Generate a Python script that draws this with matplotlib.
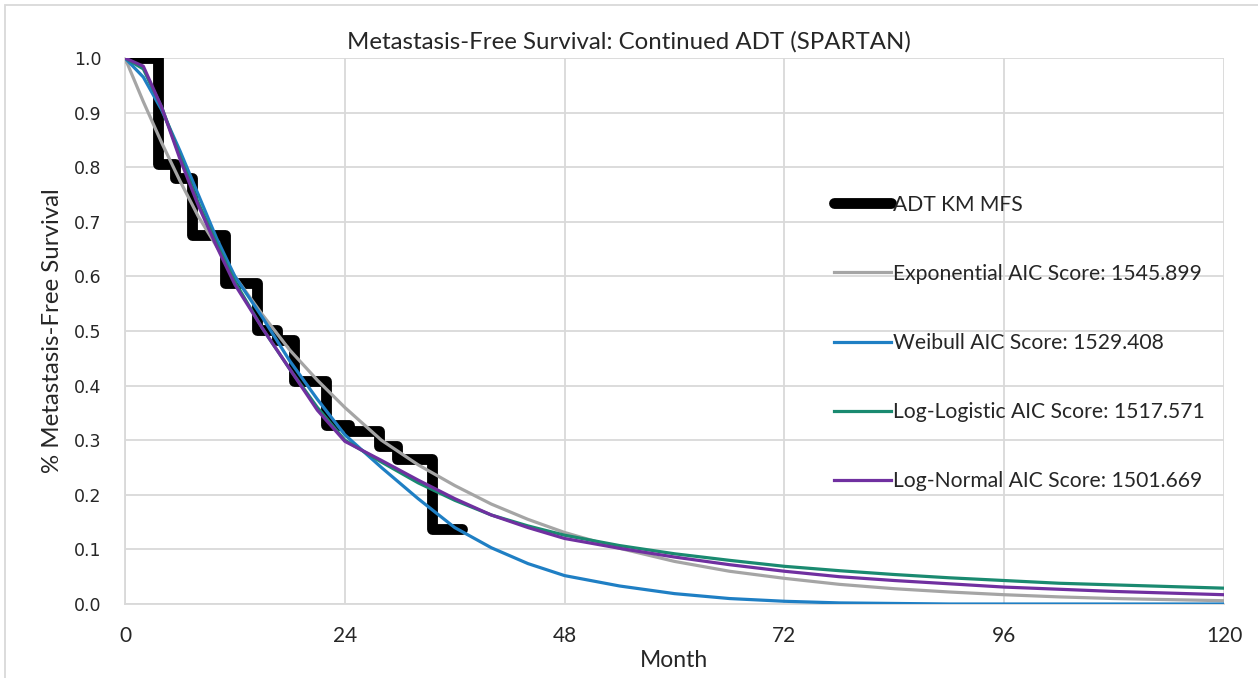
import matplotlib
matplotlib.use("Agg")
import matplotlib.pyplot as plt
from matplotlib.patches import Rectangle

# ---------------- data ----------------
km_time = [0, 3.6, 5.5, 7.3, 10.9, 14.4, 16.6, 18.4, 22.0, 24.5, 27.7, 29.7, 33.5, 36.8]
km_surv = [1.0, 0.805, 0.78, 0.675, 0.588, 0.502, 0.484, 0.408, 0.328, 0.316, 0.29, 0.265, 0.137, 0.137]

fit_time = [0, 2, 4, 6, 8, 10, 12, 15, 18, 21, 24, 28, 32, 36, 40, 44, 48, 54, 60,
            66, 72, 78, 84, 90, 96, 102, 108, 114, 120]
exp_surv = [1.0, 0.92, 0.845, 0.775, 0.71, 0.655, 0.60, 0.53, 0.465, 0.41, 0.36, 0.30,
            0.255, 0.217, 0.183, 0.155, 0.131, 0.102, 0.078, 0.06, 0.047, 0.036, 0.028,
            0.022, 0.017, 0.013, 0.01, 0.008, 0.006]
weib_surv = [1.0, 0.965, 0.905, 0.83, 0.75, 0.67, 0.60, 0.525, 0.445, 0.375, 0.31, 0.25,
             0.193, 0.14, 0.103, 0.074, 0.052, 0.033, 0.019, 0.01, 0.005, 0.002, 0.001,
             0.0, 0.0, 0.0, 0.0, 0.0, 0.0]
llog_surv = [1.0, 0.98, 0.91, 0.82, 0.735, 0.66, 0.59, 0.505, 0.43, 0.36, 0.30, 0.26,
             0.222, 0.19, 0.163, 0.143, 0.126, 0.107, 0.092, 0.08, 0.069, 0.061, 0.054,
             0.048, 0.043, 0.038, 0.035, 0.032, 0.029]
lnorm_surv = [1.0, 0.985, 0.91, 0.815, 0.73, 0.655, 0.585, 0.505, 0.43, 0.355, 0.298, 0.263,
              0.227, 0.193, 0.163, 0.14, 0.12, 0.102, 0.086, 0.072, 0.06, 0.05, 0.043,
              0.037, 0.031, 0.027, 0.023, 0.02, 0.017]

labels = ["ADT KM MFS", "Exponential AIC Score: 1545.899", "Weibull AIC Score: 1529.408",
          "Log-Logistic AIC Score: 1517.571", "Log-Normal AIC Score: 1501.669"]
x_ticks = [0, 24, 48, 72, 96, 120]
y_ticks = [0.0, 0.1, 0.2, 0.3, 0.4, 0.5, 0.6, 0.7, 0.8, 0.9, 1.0]

# ---------------- figure ----------------
W, H = 1258, 678
fig = plt.figure(figsize=(W / 100, H / 100), dpi=100)
ax = fig.add_axes([125 / W, 1 - 604 / H, (1224 - 125) / W, (604 - 58) / H])

FONT = "Lato"
TXT = "#262626"

ax.step(km_time, km_surv, where="post", color="black", lw=7.8,
        solid_joinstyle="round", solid_capstyle="round", label=labels[0], zorder=2)
ax.plot(fit_time, exp_surv, color="#A5A5A5", lw=2.3, label=labels[1], zorder=3)
ax.plot(fit_time, weib_surv, color="#1F7FC4", lw=2.3, label=labels[2], zorder=3)
ax.plot(fit_time, llog_surv, color="#1A8A70", lw=2.3, label=labels[3], zorder=3)
ax.plot(fit_time, lnorm_surv, color="#7030A0", lw=2.3, label=labels[4], zorder=4)

ax.set_xlim(0, 120)
ax.set_ylim(0, 1.0)
ax.set_xticks(x_ticks)
ax.set_yticks(y_ticks)
ax.set_yticklabels([f"{v:.1f}" for v in y_ticks], fontfamily="DejaVu Sans",
                   fontsize=12.5, color=TXT)
ax.set_xticklabels([str(v) for v in x_ticks], fontfamily=FONT, fontsize=15, color=TXT)
ax.tick_params(axis="both", length=0)
ax.tick_params(axis="y", pad=17)
ax.tick_params(axis="x", pad=16)
ax.grid(True, color="#D9D9D9", lw=1.3, zorder=0)
ax.set_axisbelow(True)
for s in ax.spines.values():
    s.set_visible(False)
for side in ("left", "bottom"):
    ax.spines[side].set_visible(True)
    ax.spines[side].set_color("#D9D9D9")
    ax.spines[side].set_linewidth(1.3)

ax.set_xlabel("Month", fontfamily=FONT, fontsize=16.5, color=TXT, labelpad=3)
ax.set_ylabel("% Metastasis-Free Survival", fontfamily=FONT, fontsize=17.3,
              color=TXT, labelpad=8)

fig.text(0.5, 1 - 42 / H, "Metastasis-Free Survival: Continued ADT (SPARTAN)",
         ha="center", va="center", fontfamily=FONT, fontsize=17.3, color=TXT)

leg = ax.legend(loc="upper left", bbox_to_anchor=(823 / W, 1 - 184 / H),
                bbox_transform=fig.transFigure, frameon=False,
                prop={"family": FONT, "size": 15.2}, handlelength=2.7,
                handletextpad=0.1, labelspacing=2.33, borderpad=0)
for t in leg.get_texts():
    t.set_color(TXT)

fig.patches.append(Rectangle((5 / W, -0.1), 2, (1 - 5 / H) + 0.1, transform=fig.transFigure,
                             fill=False, edgecolor="#D9D9D9", lw=1.3))

fig.savefig("out.png", dpi=100)
